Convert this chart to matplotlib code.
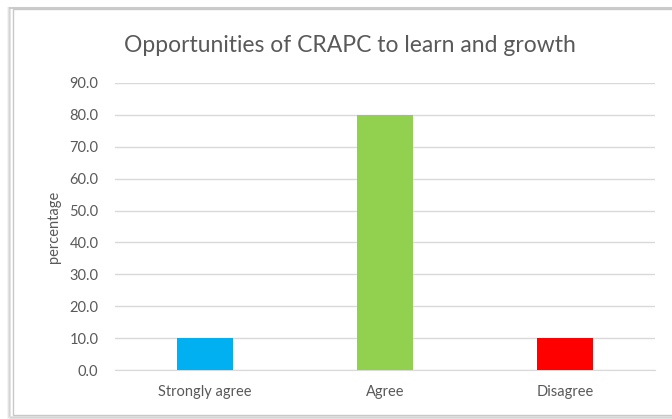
import matplotlib
matplotlib.use("Agg")
import matplotlib.pyplot as plt
from matplotlib.patches import Rectangle

categories = ["Strongly agree", "Agree", "Disagree"]
values = [10.0, 80.0, 10.0]
colors = ["#00B0F0", "#92D050", "#FF0000"]
yticks = [0, 10, 20, 30, 40, 50, 60, 70, 80, 90]

plt.rcParams["font.family"] = ["Lato", "DejaVu Sans"]

W, H = 672, 419
fig = plt.figure(figsize=(W / 100, H / 100), dpi=100)
fig.patch.set_facecolor("white")

# background layer holding the chart frame with a soft left/bottom shadow
bg = fig.add_axes([0, 0, 1, 1], zorder=-5)
bg.set_xlim(0, W)
bg.set_ylim(0, H)
bg.axis("off")
for i, a in enumerate([0.10, 0.07, 0.04]):
    bg.add_patch(Rectangle((10 - i, 2 - i), 700, 409 + i,
                           facecolor="none", edgecolor=(0, 0, 0, a), lw=1.5))
bg.add_patch(Rectangle((13, 4), 700, 406, facecolor="white",
                       edgecolor="#C8C8C8", lw=1.0))

ax = fig.add_axes([115 / W, (H - 370) / H, 540 / W, 287 / H], zorder=1)
ax.patch.set_alpha(0)
x = range(len(categories))
ax.bar(x, values, width=0.31, color=colors, zorder=3)
ax.set_xlim(-0.5, 2.5)
ax.set_ylim(0, 90)
ax.set_yticks(yticks)
ax.set_yticklabels([f"{v:.1f}" for v in yticks])
ax.set_xticks(list(x))
ax.set_xticklabels(categories)
ax.grid(axis="y", color="#D9D9D9", lw=1.0, zorder=0)
ax.set_axisbelow(True)
for s in ["top", "right", "left"]:
    ax.spines[s].set_visible(False)
ax.spines["bottom"].set_color("#D9D9D9")
ax.tick_params(length=0, colors="#595959", labelsize=10.5)
ax.tick_params(axis="y", pad=12)
ax.tick_params(axis="x", pad=11)
ax.set_ylabel("percentage", color="#595959", fontsize=10.5, labelpad=6)
fig.text(350 / W, (H - 46) / H, "Opportunities of CRAPC to learn and growth",
         ha="center", va="center", fontsize=16.5, color="#595959")

fig.savefig("out.png", dpi=100)
